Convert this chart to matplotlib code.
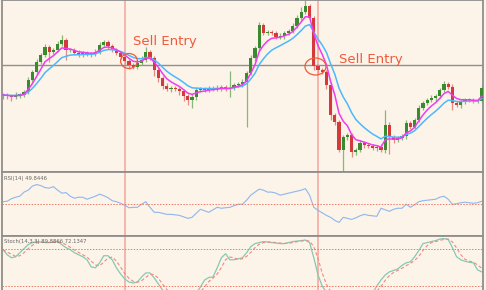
import pandas as pd
import matplotlib
matplotlib.use("Agg")
import matplotlib.pyplot as plt
from matplotlib.patches import Ellipse

# closing prices, one per bar (chart units)
closes = [77, 76, 75, 77, 77, 80, 92, 100, 110, 117,
          125, 120, 122, 128, 132, 122, 122, 119, 117, 119,
          118, 118, 120, 127, 130, 126, 122, 119, 115, 111,
          107, 105, 109, 112, 120, 114, 102, 94, 86, 83,
          84, 83, 81, 76, 72, 75, 82, 83, 82, 84,
          83, 84, 85, 83, 84, 87, 88, 90, 99, 114,
          124, 147, 139, 140, 139, 135, 136, 139, 141, 146,
          154, 160, 166, 154, 106, 102, 100, 87, 57, 50,
          22, 35, 37, 20, 22, 29, 27, 26, 24, 25,
          22, 47, 35, 32, 34, 36, 49, 45, 52, 64,
          69, 72, 74, 76, 82, 88, 85, 69, 67, 70,
          72, 72, 71, 71, 84]
first_open = 76

upper_wick = [2, 2, 2, 3, 2, 2, 3, 2, 3, 2,
              3, 2, 2, 3, 5, 2, 2, 2, 3, 2,
              2, 2, 3, 3, 2, 2, 2, 2, 2, 3,
              2, 2, 3, 4, 5, 2, 2, 2, 2, 3,
              2, 2, 2, 2, 2, 3, 3, 2, 2, 2,
              2, 3, 2, 2, 17, 2, 2, 3, 2, 3,
              2, 3, 2, 2, 2, 2, 3, 2, 2, 3,
              3, 5, 6, 2, 2, 2, 2, 2, 3, 2,
              2, 2, 2, 2, 2, 3, 2, 2, 2, 2,
              3, 15, 3, 2, 2, 2, 3, 2, 2, 3,
              2, 2, 3, 2, 2, 3, 2, 3, 2, 2,
              2, 2, 2, 2, 3]
lower_wick = [3, 3, 4, 2, 3, 2, 2, 3, 2, 2,
              2, 10, 2, 2, 2, 10, 2, 2, 2, 2,
              2, 3, 2, 2, 2, 3, 2, 2, 2, 3,
              4, 2, 2, 2, 2, 2, 6, 4, 3, 2,
              3, 2, 4, 5, 5, 8, 3, 2, 2, 2,
              2, 2, 3, 2, 8, 2, 2, 3, 45, 2,
              3, 2, 2, 2, 2, 2, 2, 3, 2, 2,
              2, 2, 2, 2, 4, 3, 2, 4, 5, 3,
              2, 25, 3, 5, 3, 2, 3, 2, 2, 3,
              2, 3, 17, 3, 2, 2, 3, 2, 2, 2,
              2, 2, 2, 3, 2, 2, 2, 7, 2, 3,
              2, 2, 2, 2, 2]

rsi = [53.2, 54.0, 57.9, 60.3, 61.9, 68.3, 71.4, 77.8, 80.2, 78.6,
       75.4, 74.6, 77.0, 71.4, 66.7, 67.5, 61.9, 58.7, 60.3, 60.3,
       57.1, 59.5, 61.9, 65.1, 62.7, 59.5, 54.8, 53.2, 50.8, 47.6,
       43.7, 44.4, 44.4, 49.2, 53.2, 44.4, 36.5, 36.5, 34.9, 33.3,
       33.3, 32.5, 31.7, 29.4, 27.0, 28.6, 34.9, 41.3, 38.9, 36.5,
       40.5, 44.4, 42.9, 43.7, 44.4, 46.8, 49.2, 49.2, 55.6, 63.5,
       68.3, 73.0, 71.4, 68.3, 68.3, 66.7, 63.5, 65.1, 66.7, 68.3,
       69.8, 71.4, 73.8, 63.5, 44.4, 39.7, 35.7, 31.7, 28.6, 23.8,
       20.6, 28.6, 27.0, 25.4, 27.8, 31.0, 33.3, 31.7, 31.0, 30.2,
       42.9, 40.5, 38.1, 41.3, 42.9, 42.9, 49.2, 44.4, 48.4, 53.2,
       54.8, 55.6, 56.3, 57.1, 60.3, 61.9, 57.1, 49.2, 50.0, 51.6,
       52.4, 51.6, 50.8, 51.6, 54.0]

stoch_k = [78.9, 70.6, 65.7, 67.3, 73.9, 80.5, 87.1, 90.4, 92.1, 91.3,
           90.4, 90.4, 91.3, 92.1, 87.1, 82.2, 78.9, 73.9, 70.6, 67.3,
           62.4, 50.8, 49.2, 57.4, 69.0, 69.0, 62.4, 49.2, 39.3, 31.0,
           26.1, 24.4, 26.1, 34.3, 40.9, 40.9, 32.7, 22.8, 12.9, 6.0,
           3.0, 2.0, 1.0, 0.0, 0.0, 3.0, 8.0, 17.8, 29.4, 33.5,
           34.3, 49.2, 65.7, 72.3, 62.4, 62.4, 64.0, 65.7, 73.9, 83.8,
           88.8, 90.4, 92.1, 91.3, 90.4, 89.6, 88.8, 88.8, 90.4, 92.1,
           92.9, 93.7, 94.6, 90.4, 65.7, 37.6, 19.5, 9.6, 4.0, 2.0,
           0.0, 4.0, 5.0, 3.0, 4.0, 6.0, 7.0, 6.0, 8.0, 19.5,
           29.4, 37.6, 42.6, 45.0, 47.5, 53.3, 57.4, 59.1, 67.3, 77.2,
           88.8, 90.4, 92.1, 93.7, 96.2, 97.0, 95.4, 82.2, 67.3, 62.4,
           59.9, 58.3, 57.4, 45.9, 42.6]

entry_bars = [29, 75]
level_price = 107

bg = "#fcf4e8"
bull, bear = "#3b8a2f", "#d33a3c"
bull_wick, bear_wick = "#86b97a", "#e58a88"
entry_red = "#f05a3c"
vline_col = "#f2a49c"
frame = "#8f8f8f"

df = pd.DataFrame({"close": closes})
df["open"] = [first_open] + closes[:-1]
df["high"] = df[["open", "close"]].max(axis=1) + upper_wick
df["low"] = df[["open", "close"]].min(axis=1) - lower_wick
df["ema_fast"] = df["close"].ewm(span=5, adjust=False).mean()
df["ema_slow"] = df["close"].ewm(span=10, adjust=False).mean()
stoch_d = pd.Series(stoch_k).rolling(3, min_periods=1).mean()

W, H = 486, 290
fig = plt.figure(figsize=(W / 100, H / 100), dpi=100, facecolor=bg)


def px_axes(left, top, right, bottom):
    return fig.add_axes([left / W, 1 - bottom / H, (right - left) / W, (bottom - top) / H])


ax = px_axes(2, 0, 483, 172)
ax_rsi = px_axes(2, 172, 483, 235.5)
ax_st = px_axes(2, 235.5, 483, 298)

x = list(range(len(df)))
xlim = (-1 / 4.2, 480 / 4.2)

for a in (ax, ax_rsi, ax_st):
    a.set_facecolor(bg)
    a.set_xlim(*xlim)
    a.set_xticks([])
    a.set_yticks([])
    for s in a.spines.values():
        s.set_color(frame)
        s.set_linewidth(1.3)
    for b in entry_bars:
        a.axvline(b, color=vline_col, lw=1.1, zorder=1)

# candles
up = df["close"] >= df["open"]
wick_cols = [bull_wick if u else bear_wick for u in up]
body_cols = [bull if u else bear for u in up]
ax.vlines(x, df["low"], df["high"], colors=wick_cols, lw=0.9, zorder=2)
body_h = (df["close"] - df["open"]).abs().clip(lower=1.2)
ax.bar(x, body_h, bottom=df[["open", "close"]].min(axis=1), width=0.72,
       color=body_cols, zorder=3)

ax.plot(x, df["ema_slow"], color="#4db8ff", lw=1.1, zorder=4)
ax.plot(x, df["ema_fast"], color="#f03cf0", lw=1.1, zorder=5)
ax.axhline(level_price, color=frame, lw=1.0, zorder=1.5)
ax.set_ylim(0, 172)

# entry markers
ax.add_patch(Ellipse((30, 111), 4.0, 15, fill=False, ec=entry_red, lw=0.9, zorder=6))
ax.add_patch(Ellipse((74.4, 105.5), 5.0, 17, fill=False, ec=entry_red, lw=0.9, zorder=6))
ax.text(31, 131, "Sell Entry", color=entry_red, fontsize=9.5, va="center", ha="left")
ax.text(80, 112, "Sell Entry", color=entry_red, fontsize=9.5, va="center", ha="left")

# RSI panel
ax_rsi.plot(x, rsi, color="#8fb6ee", lw=0.8)
ax_rsi.axhline(50, color="#f07a6a", lw=0.7, ls=(0, (1.5, 1.5)))
ax_rsi.set_ylim(0, 100)
ax_rsi.text(0.005, 0.9, "RSI(14) 49.8446", transform=ax_rsi.transAxes,
            fontsize=3.8, color="#666666", va="center")

# Stochastic panel
ax_st.plot(x, stoch_k, color="#86c9b3", lw=0.9)
ax_st.plot(x, stoch_d, color="#f08a80", lw=0.8, ls=(0, (3, 2)))
for lvl in (80, 20):
    ax_st.axhline(lvl, color="#f07a6a", lw=0.7, ls=(0, (1.5, 1.5)))
ax_st.set_ylim(0, 102)
ax_st.text(0.005, 0.9, "Stoch(14,3,3) 89.8866 72.1347", transform=ax_st.transAxes,
           fontsize=3.8, color="#666666", va="center")

fig.savefig("out.png", dpi=100, facecolor=bg)
